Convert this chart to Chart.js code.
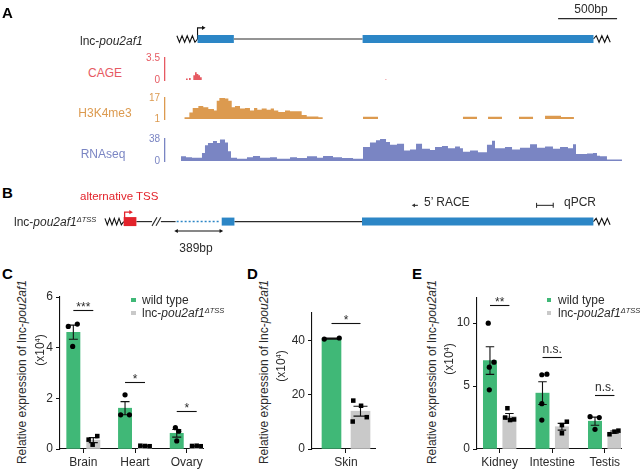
<!DOCTYPE html>
<html><head><meta charset="utf-8">
<script src="https://cdn.jsdelivr.net/npm/chart.js@4.4.1/dist/chart.umd.min.js"></script>
<style>
html,body{margin:0;padding:0;background:#fff;}
#wrap{position:relative;width:640px;height:470px;overflow:hidden;font-family:"Liberation Sans",Arial,Helvetica,sans-serif;color:#2b2b2b;}
canvas{position:absolute;}
.t{position:absolute;white-space:nowrap;line-height:1;}
.t i{font-style:italic;}
.t sup{font-size:62%;vertical-align:baseline;position:relative;top:-0.55em;}
.sq{position:absolute;}
</style></head><body><div id="wrap"></div>
<script>
// ---------------- DATA ----------------
// Panel A: coverage tracks. Positions in bp from the window start (step start points), values read off the tracks.
const cagePos = [175, 189, 200, 214, 236, 250, 264, 278, 292, 306, 1838, 1846];
const cageVal = [0.25, 0, 0.3, 0, 0.75, 1.25, 0.95, 0.75, 0.45, 0, 0.15, 0];

const h3Pos = [161, 203, 231, 278, 319, 361, 408, 431, 453, 500, 528, 556, 583, 625, 667, 708, 742, 769, 806, 847, 881, 908, 944, 1000, 1042, 1139, 1181, 1278, 1314,
               1650, 1775, 2483, 2600, 2692, 2808, 2950, 3067, 3167, 3300, 3408];
const h3Val = [2.4, 6, 9.4, 11, 10, 8.6, 7.4, 15, 17.8, 16.6, 15, 10, 11, 9, 9.4, 7.4, 9.4, 8, 9, 8, 9, 7.4, 6.4, 7.4, 7, 4, 3, 2.4, 1,
               2.8, 1, 2.8, 1, 2.8, 1, 2.8, 1, 3.4, 2.6, 1];

const rnaPos = [133, 175, 225, 308, 333, 358, 400, 433, 458, 500, 525, 550, 600, 683, 733, 792, 875, 933, 1042, 1100, 1183, 1267, 1317, 1400, 1475, 1567,
                1650, 1708, 1758, 1792, 1842, 1875, 1933, 1992, 2042, 2092, 2142, 2208, 2250, 2308, 2358, 2417, 2458, 2483, 2542, 2608, 2683, 2725, 2750,
                2833, 2892, 2958, 3042, 3100, 3167, 3233, 3292, 3358, 3400, 3425, 3517, 3567, 3600, 3625, 3683, 3808];
const rnaVal = [8, 6.6, 5.6, 14, 27, 31, 34.5, 31, 37, 32, 17, 5.6, 4, 6.6, 8.6, 5.6, 6.6, 4, 6.6, 5, 8, 5.6, 8.6, 6.6, 5, 4,
                24, 32, 36, 41, 33, 28, 30, 18, 20, 30, 21, 19, 24, 26, 22, 25, 22, 16, 18, 15, 28, 35, 22,
                24, 20, 23, 29, 23, 25, 21, 24, 22, 29, 12, 13, 14, 9, 8, 2.5, 0];

// Panel A gene model (bp)
const geneAExons = [[242, 550], [1642, 3600]];
const geneAIntrons = [[550, 1642]];
const geneAFlanks = [[67, 242], [3600, 3742]];
const geneATss = 242;
const scaleBarBp = [3300, 3800];   // 500bp

// Panel B gene model (bp)
const geneBTssExon = [-383, -275];
const geneBExons = [[450, 558], [1642, 3608]];
const geneBLines = [[-275, -142], [-67, 58], [558, 1642]];
const geneBBreaks = [[-142, -100], [-108, -67]];
const geneBDeleted = [67, 433];
const geneBFlanks = [[-542, -383], [3608, 3750]];
const geneBTss = -375;
const deletionArrow = [67, 442];     // 389bp
const raceArrow = [2117, 2083];
const qpcrBar = [3125, 3267];

// Panel C
const cCats = ['Brain', 'Heart', 'Ovary'];
const cWT = [4.61, 1.61, 0.62];
const cWTsem = [0.28, 0.26, 0.15];
const cKO = [0.35, 0.12, 0.12];
const cKOsem = [0.1, 0.01, 0.01];
const cWTpts = [[4.84, 4.93, 4.05], [2.14, 1.35, 1.35], [0.84, 0.70, 0.32]];
const cKOpts = [[0.51, 0.37, 0.17], [0.13, 0.12, 0.11], [0.12, 0.13, 0.11]];
const cWTjit = [[-0.38, 0.3, -0.05], [0, -0.33, 0.33], [-0.1, 0.15, 0]];
const cKOjit = [[0.3, -0.35, -0.05], [-0.35, 0, 0.35], [-0.35, 0, 0.35]];
const cSigText = ['***', '*', '*'];
const cSigY = [5.49, 2.65, 1.5];
const cTicks = [0, 2, 4, 6];

// Panel D
const dCats = ['Skin'];
const dWT = [40.6];
const dWTsem = [0.2];
const dKO = [13.9];
const dKOsem = [1.8];
const dWTpts = [[40.4, 40.8]];
const dKOpts = [[17.8, 15.9, 10.1, 11.7]];
const dWTjit = [[-0.38, 0.41]];
const dKOjit = [[-0.38, 0.03, -0.41, 0.33]];
const dSigText = ['*'];
const dSigY = [46.5];
const dTicks = [0, 20, 40];

// Panel E
const eCats = ['Kidney', 'Intestine', 'Testis'];
const eWT = [7.03, 4.44, 2.21];
const eWTsem = [1.1, 0.9, 0.32];
const eKO = [2.6, 1.77, 1.34];
const eKOsem = [0.22, 0.27, 0.09];
const eWTpts = [[10.0, 6.9, 6.5, 4.7], [5.9, 5.95, 3.6, 2.3], [2.57, 2.5, 1.56]];
const eKOpts = [[3.24, 2.5, 2.3, 2.35], [2.17, 1.9, 1.25], [1.17, 1.38, 1.46]];
const eWTjit = [[-0.13, 0.3, -0.05, -0.05], [-0.05, 0.33, -0.05, -0.05], [-0.37, 0.32, 0]];
const eKOjit = [[-0.15, -0.32, 0.05, 0.35], [0.37, 0, 0], [-0.37, 0, 0.3]];
const eSigText = ['**', 'n.s.', 'n.s.'];
const eSigY = [11.46, 7.34, 4.3];
const eTicks = [0, 5, 10];

// ---------------- STYLE / LAYOUT ----------------
const FONT = '"Liberation Sans", Arial, Helvetica, sans-serif';
const GREEN = '#40b877', GREY = '#c9c9c9', BLUE = '#2c86c6', RED = '#e3232b', DARK = '#2b2b2b';
const CAGE_C = '#e65a62', H3_C = '#dc9a4f', RNA_C = '#7a85c3';
Chart.defaults.font.family = FONT;
Chart.defaults.color = DARK;
Chart.defaults.animation = false;
Chart.defaults.responsive = false;
Chart.defaults.events = [];
Chart.defaults.plugins.legend.display = false;
Chart.defaults.plugins.tooltip.enabled = false;

const wrap = document.getElementById('wrap');
const AX_LEFT = 165, AX_RIGHT = 625, BP_PER_PX = 500 / 60;
const bpOf = px => (px - AX_LEFT) * BP_PER_PX;

function mkCanvas(L, T, W, H) {
  const c = document.createElement('canvas');
  c.width = W; c.height = H;
  c.style.left = L + 'px'; c.style.top = T + 'px';
  c.style.width = W + 'px'; c.style.height = H + 'px';
  wrap.appendChild(c);
  return c;
}
function txt(html, x, y, o = {}) {
  const d = document.createElement('div');
  d.className = 't'; d.innerHTML = html;
  d.style.left = x + 'px'; d.style.top = y + 'px';
  d.style.fontSize = (o.size || 12) + 'px';
  if (o.color) d.style.color = o.color;
  if (o.bold) d.style.fontWeight = 'bold';
  const ax = o.rot ? '-50%' : (o.align === 'center' ? '-50%' : (o.align === 'right' ? '-100%' : '0'));
  d.style.transform = `translate(${ax},-50%)` + (o.rot ? ' rotate(-90deg)' : '');
  wrap.appendChild(d);
}
function square(x, y, s, color) {
  const d = document.createElement('div');
  d.className = 'sq';
  d.style.left = x + 'px'; d.style.top = (y - s / 2) + 'px';
  d.style.width = s + 'px'; d.style.height = s + 'px'; d.style.background = color;
  wrap.appendChild(d);
}

// ---------------- PANEL A TRACKS ----------------
function track(pos, val, color, yMin, yMax, tickTxt, area) {
  const L = 125, R = AX_RIGHT, T = area.top - 10, B = area.bottom + 7;
  const c = mkCanvas(L, T, R - L, B - T);
  new Chart(c, {
    type: 'line',
    data: { datasets: [{
      data: pos.map((p, i) => ({ x: p, y: val[i] })),
      stepped: 'before', fill: 'start', backgroundColor: color,
      borderWidth: 0, borderColor: 'rgba(0,0,0,0)', pointRadius: 0
    }] },
    options: {
      layout: { padding: { left: 0, right: 0, top: area.top - T, bottom: B - area.bottom } },
      scales: {
        x: { type: 'linear', display: false, min: bpOf(AX_LEFT), max: bpOf(AX_RIGHT) },
        y: {
          type: 'linear', min: yMin, max: yMax, position: 'left',
          afterFit: s => { s.width = AX_LEFT - L; },
          afterBuildTicks: s => { s.ticks = [{ value: yMin }, { value: yMax }]; },
          border: { display: true, color: color, width: 1.3 },
          grid: { display: false, drawTicks: false },
          ticks: { color: color, font: { size: 10 }, padding: 5, callback: (v) => tickTxt[v === yMin ? 0 : 1] }
        }
      }
    }
  });
}
track(cagePos, cageVal, CAGE_C, 0, 3.5, ['0', '3.5'], { top: 57, bottom: 84 });
track(h3Pos, h3Val, H3_C, 1, 17, ['1', '17'], { top: 97, bottom: 123 });
track(rnaPos, rnaVal, RNA_C, 0, 38, ['0', '38'], { top: 138, bottom: 165 });

// ---------------- GENE MODELS ----------------
function seg(a, b, y, color, width, extra = {}) {
  return Object.assign({ data: [{ x: a, y: y }, { x: b, y: y }], borderColor: color, borderWidth: width,
    pointRadius: 0, borderCapStyle: 'butt', fill: false }, extra);
}
function zig(a, b, y, n, amp, color, startDown) {
  const pts = [];
  for (let i = 0; i <= n; i++) {
    const up = (i % 2 === 0) !== !!startDown;
    pts.push({ x: a + (b - a) * i / n, y: (i === n && !startDown) || (i === 0 && startDown) ? y : (up ? y + amp : y - amp) });
  }
  return { data: pts, borderColor: color, borderWidth: 1.1, pointRadius: 0, fill: false, borderJoinStyle: 'miter' };
}
function geneChart(L, T, W, H, yMin, yMax, datasets) {
  new Chart(mkCanvas(L, T, W, H), {
    type: 'line', data: { datasets },
    options: {
      layout: { padding: 0 },
      scales: {
        x: { type: 'linear', display: false, min: bpOf(L), max: bpOf(L + W) },
        y: { type: 'linear', display: false, min: yMin, max: yMax }
      }
    }
  });
}
const bpPx = 1 / BP_PER_PX;
// Panel A gene (14 px per unit)
geneChart(AX_LEFT, -1, AX_RIGHT - AX_LEFT, 56, -1, 3, [
  ...geneAExons.map(e => seg(e[0], e[1], 0, BLUE, 8)),
  ...geneAIntrons.map(e => seg(e[0], e[1], 0, DARK, 1.2)),
  zig(geneAFlanks[0][0], geneAFlanks[0][1], 0, 8, 0.27, '#111', false),
  zig(geneAFlanks[1][0], geneAFlanks[1][1], 0, 6, 0.27, '#111', true),
  { data: [{ x: geneATss, y: 0 }, { x: geneATss, y: 0.93 }, { x: geneATss + 48, y: 0.93 }],
    borderColor: '#111', borderWidth: 1.1, fill: false, pointStyle: 'triangle', pointRotation: 90,
    pointRadius: [0, 0, 2.4], pointBackgroundColor: '#111', pointBorderWidth: 0 },
  seg(scaleBarBp[0], scaleBarBp[1], 1.7, DARK, 1.2)
]);
// Panel B gene (10 px per unit, gene line at y=221)
geneChart(95, 190, AX_RIGHT - 95, 70, -3.9, 3.1, [
  seg(geneBTssExon[0], geneBTssExon[1], 0, RED, 9),
  ...geneBExons.map(e => seg(e[0], e[1], 0, BLUE, 8)),
  ...geneBLines.map(e => seg(e[0], e[1], 0, DARK, 1.2)),
  ...geneBBreaks.map(e => ({ data: [{ x: e[0], y: -0.5 }, { x: e[1], y: 0.5 }], borderColor: DARK, borderWidth: 1.1, pointRadius: 0, fill: false })),
  seg(geneBDeleted[0], geneBDeleted[1], 0, BLUE, 1.5, { borderDash: [2, 2] }),
  zig(geneBFlanks[0][0], geneBFlanks[0][1], 0, 8, 0.38, '#111', false),
  zig(geneBFlanks[1][0], geneBFlanks[1][1], 0, 6, 0.38, '#111', true),
  { data: [{ x: geneBTss, y: 0.4 }, { x: geneBTss, y: 1.1 }, { x: geneBTss + 50, y: 1.1 }],
    borderColor: RED, borderWidth: 1.3, fill: false, pointStyle: 'triangle', pointRotation: 90,
    pointRadius: [0, 0, 2.4], pointBackgroundColor: RED, pointBorderWidth: 0 },
  { data: [{ x: deletionArrow[0], y: -1.1 }, { x: deletionArrow[1], y: -1.1 }],
    borderColor: '#111', borderWidth: 1.1, fill: false, pointStyle: 'triangle', pointRotation: [270, 90],
    pointRadius: 2.4, pointBackgroundColor: '#111', pointBorderWidth: 0 },
  { data: [{ x: raceArrow[0], y: 1.9 }, { x: raceArrow[1], y: 1.9 }],
    borderColor: '#333', borderWidth: 1.1, fill: false, pointStyle: 'triangle', pointRotation: [0, 270],
    pointRadius: [0, 2.2], pointBackgroundColor: '#333', pointBorderWidth: 0 },
  { data: [{ x: qpcrBar[0], y: 1.9 }, { x: qpcrBar[1], y: 1.9 }],
    borderColor: '#333', borderWidth: 1.1, fill: false, pointStyle: 'line', pointRotation: 90,
    pointRadius: 2.5, pointBorderColor: '#333', pointBorderWidth: 1.1 }
]);

// ---------------- BAR PANELS ----------------
const barPlugin = {
  id: 'errsig',
  afterDatasetDraw(chart, args) {
    const ds = chart.data.datasets[args.index];
    const o = chart.options.plugins.errsig;
    if (!ds.sem || !o) return;
    const { ctx } = chart, x = chart.scales.x, y = chart.scales.y;
    ctx.save(); ctx.strokeStyle = '#111'; ctx.lineWidth = 1.1;
    ds.data.forEach((d, i) => {
      const px = x.getPixelForValue(d.x), hw = o.cap / 2;
      const yt = y.getPixelForValue(d.y + ds.sem[i]), yb = y.getPixelForValue(d.y - ds.sem[i]);
      ctx.beginPath();
      ctx.moveTo(px, yt); ctx.lineTo(px, yb);
      ctx.moveTo(px - hw, yt); ctx.lineTo(px + hw, yt);
      ctx.moveTo(px - hw, yb); ctx.lineTo(px + hw, yb);
      ctx.stroke();
    });
    ctx.restore();
  },
  afterDatasetsDraw(chart) {
    const o = chart.options.plugins.errsig;
    if (!o) return;
    const { ctx } = chart, x = chart.scales.x, y = chart.scales.y;
    ctx.save(); ctx.strokeStyle = '#111'; ctx.lineWidth = 1.1; ctx.fillStyle = DARK;
    ctx.font = '12px ' + FONT; ctx.textAlign = 'center'; ctx.textBaseline = 'alphabetic';
    o.text.forEach((t, i) => {
      const c = i + 1, x0 = x.getPixelForValue(c - o.off), x1 = x.getPixelForValue(c + o.off), py = Math.round(y.getPixelForValue(o.y[i])) + 0.5;
      ctx.beginPath(); ctx.moveTo(x0, py); ctx.lineTo(x1, py); ctx.stroke();
      ctx.fillText(t, (x0 + x1) / 2, py - (t[0] === '*' ? 0 : 5));
    });
    ctx.restore();
  }
};

function barPanel(p) {
  const c = mkCanvas(p.L, p.T, p.R - p.L, p.B - p.T);
  const pxPerUnit = (p.area.right - p.area.left) / (p.xMax - p.xMin);
  const bw = p.barPx / pxPerUnit;
  const cx = p.cats.map((_, i) => i + 1);
  const bars = (vals, sem, off, color) => ({ type: 'bar', data: vals.map((v, i) => ({ x: cx[i] + off, y: v })), sem: sem,
    backgroundColor: color, barThickness: p.barPx, grouped: false, borderWidth: 0, order: 2 });
  const pts = (arr, jit, off, style, r) => ({ type: 'scatter',
    data: arr.flatMap((ps, i) => ps.map((v, j) => ({ x: cx[i] + off + jit[i][j] * bw, y: v }))),
    pointStyle: style, pointRadius: r, pointBackgroundColor: '#000', pointBorderColor: '#000', pointBorderWidth: 0, order: 1 });
  new Chart(c, {
    type: 'bar',
    data: { datasets: [
      bars(p.wt, p.wtSem, -p.off, GREEN),
      bars(p.ko, p.koSem, p.off, GREY),
      pts(p.wtPts, p.wtJit, -p.off, 'circle', 2.6),
      pts(p.koPts, p.koJit, p.off, 'rect', 3.2)
    ] },
    plugins: [barPlugin],
    options: {
      layout: { padding: { left: 0, top: p.area.top - p.T, right: p.R - p.area.right, bottom: 0 } },
      plugins: { errsig: { cap: p.cap, off: p.off, text: p.sigText, y: p.sigY } },
      scales: {
        x: {
          type: 'linear', min: p.xMin, max: p.xMax, offset: false,
          afterBuildTicks: s => { s.ticks = cx.map(v => ({ value: v })); },
          afterFit: s => { s.height = p.B - p.area.bottom; },
          grid: { display: true, drawOnChartArea: false, drawTicks: true, tickLength: 4, tickColor: '#111', offset: false },
          border: { display: true, color: '#111', width: 1.1 },
          ticks: { color: DARK, font: { size: 12 }, padding: 2, maxRotation: 0, autoSkip: false,
                   callback: v => p.cats[Math.round(v) - 1] || '' }
        },
        y: {
          type: 'linear', min: 0, max: p.yMax,
          afterBuildTicks: s => { s.ticks = p.yTicks.map(v => ({ value: v })); },
          afterFit: s => { s.width = p.area.left - p.L; },
          grid: { display: true, drawOnChartArea: false, drawTicks: true, tickLength: 4, tickColor: '#111' },
          border: { display: true, color: '#111', width: 1.1 },
          ticks: { color: DARK, font: { size: 12 }, padding: 3 }
        }
      }
    }
  });
}

barPanel({ L: 30, T: 285, R: 215, B: 475, area: { left: 60, top: 297, right: 203, bottom: 449 },
  xMin: 0.549, xMax: 3.315, off: 0.193, barPx: 13.3, cap: 9, yMax: 6, yTicks: cTicks,
  cats: cCats, wt: cWT, wtSem: cWTsem, ko: cKO, koSem: cKOsem, wtPts: cWTpts, koPts: cKOpts,
  wtJit: cWTjit, koJit: cKOjit, sigText: cSigText, sigY: cSigY });

barPanel({ L: 285, T: 300, R: 385, B: 475, area: { left: 312, top: 313, right: 375, bottom: 449 },
  xMin: -0.172, xMax: 2.0, off: 0.5, barPx: 19, cap: 14, yMax: 50, yTicks: dTicks,
  cats: dCats, wt: dWT, wtSem: dWTsem, ko: dKO, koSem: dKOsem, wtPts: dWTpts, koPts: dKOpts,
  wtJit: dWTjit, koJit: dKOjit, sigText: dSigText, sigY: dSigY });

barPanel({ L: 450, T: 285, R: 635, B: 475, area: { left: 477, top: 298, right: 621, bottom: 449 },
  xMin: 0.568, xMax: 3.31, off: 0.185, barPx: 13.3, cap: 8.5, yMax: 12, yTicks: eTicks,
  cats: eCats, wt: eWT, wtSem: eWTsem, ko: eKO, koSem: eKOsem, wtPts: eWTpts, koPts: eKOpts,
  wtJit: eWTjit, koJit: eKOjit, sigText: eSigText, sigY: eSigY });

// ---------------- TEXT ----------------
const LNC = 'lnc-<i>pou2af1</i>';
const LNC_D = 'lnc-<i>pou2af1</i><sup><i>ΔTSS</i></sup>';
txt('A', 2, 12, { size: 15, bold: true, color: '#000' });
txt('B', 2, 192, { size: 15, bold: true, color: '#000' });
txt('C', 2, 273, { size: 15, bold: true, color: '#000' });
txt('D', 247, 273, { size: 15, bold: true, color: '#000' });
txt('E', 412, 273, { size: 15, bold: true, color: '#000' });

txt('500bp', 591, 9, { align: 'center' });
txt(LNC, 80, 41);
txt('CAGE', 105, 73, { align: 'center', color: CAGE_C });
txt('H3K4me3', 105, 113, { align: 'center', color: H3_C });
txt('RNAseq', 103, 154, { align: 'center', color: RNA_C });

txt('alternative TSS', 80, 197, { color: RED, size: 11.5 });
txt(LNC_D, 14, 222);
txt('389bp', 196, 248, { align: 'center' });
txt('5’ RACE', 424, 202);
txt('qPCR', 564, 202);

const YT = 'Relative expression of ' + LNC;
txt(YT, 22, 372, { rot: true });
txt('(x10<sup>4</sup>)', 40, 350, { rot: true });
txt(YT, 264, 372, { rot: true });
txt('(x10<sup>4</sup>)', 281, 366, { rot: true });
txt(YT, 432, 372, { rot: true });
txt('(x10<sup>4</sup>)', 449, 359, { rot: true });

square(131, 300, 4.5, GREEN); txt('wild type', 142, 300);
square(131, 313, 4.5, GREY); txt(LNC_D, 142, 313);
square(546.5, 300, 4.5, GREEN); txt('wild type', 558, 300);
square(546.5, 313, 4.5, GREY); txt(LNC_D, 558, 313);
</script></body></html>
